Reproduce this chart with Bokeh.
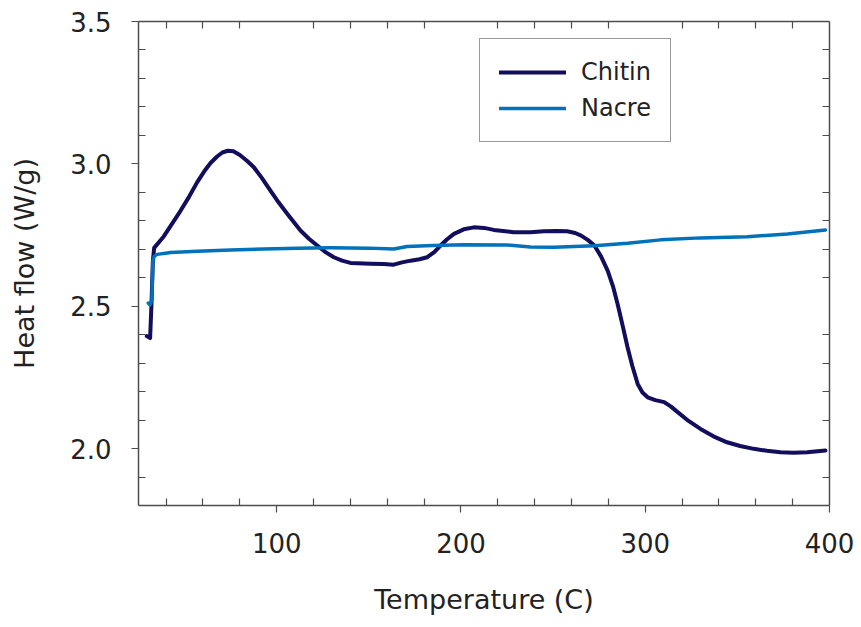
from bokeh.plotting import figure
from bokeh.models import (Range1d, LinearAxis, FixedTicker, PrintfTickFormatter,
                          Legend, LegendItem)
from bokeh.embed import file_html
from bokeh.resources import INLINE

# ---------------- data ----------------
chitin_temp = [29.5, 31.3, 32.0, 32.8, 33.5, 38.7, 47.8, 52.5, 56.8, 60.5, 64.1, 67.5,
               70.5, 73.5, 76.5, 80.0, 84.0, 87.6, 92.0, 96.6, 101.0, 105.7, 112.9,
               117.5, 122.0, 126.5, 131.0, 135.5, 140.0, 150.9, 158.0, 163.5, 168.0,
               172.7, 177.5, 181.7, 185.5, 188.9, 192.5, 196.2, 201.5, 207.0, 212.5,
               217.8, 228.6, 237.7, 245.0, 252.0, 257.6, 262.0, 265.2, 268.8, 272.4,
               276.0, 279.6, 282.5, 285.0, 287.8, 290.4, 293.0, 295.9, 298.5, 301.3,
               305.5, 310.3, 313.8, 317.6, 323.5, 330.0, 337.0, 344.4, 351.5, 358.9,
               366.0, 373.4, 380.5, 387.9, 397.8]
chitin_heat = [2.395, 2.388, 2.500, 2.660, 2.705, 2.745, 2.835, 2.885, 2.935, 2.972,
               3.003, 3.025, 3.040, 3.046, 3.044, 3.031, 3.010, 2.988, 2.950, 2.906,
               2.865, 2.825, 2.766, 2.737, 2.713, 2.690, 2.672, 2.660, 2.652, 2.649,
               2.648, 2.646, 2.654, 2.660, 2.665, 2.672, 2.690, 2.713, 2.735, 2.754,
               2.770, 2.777, 2.775, 2.768, 2.760, 2.760, 2.763, 2.764, 2.763, 2.757,
               2.748, 2.733, 2.713, 2.675, 2.625, 2.570, 2.508, 2.430, 2.356, 2.290,
               2.227, 2.197, 2.180, 2.170, 2.163, 2.148, 2.128, 2.097, 2.069, 2.043,
               2.022, 2.009, 1.999, 1.992, 1.987, 1.985, 1.987, 1.993]

nacre_temp = [30.3, 31.2, 32.2, 32.8, 33.5, 35.1, 42.4, 56.8, 74.9, 93.0, 111.1,
              129.2, 150.0, 163.5, 170.8, 185.0, 201.5, 225.0, 237.7, 250.4, 272.4,
              290.4, 308.3, 330.0, 355.3, 377.1, 397.8]
nacre_heat = [2.511, 2.505, 2.520, 2.660, 2.675, 2.682, 2.689, 2.693, 2.697, 2.701,
              2.704, 2.705, 2.704, 2.701, 2.710, 2.713, 2.716, 2.715, 2.708, 2.707,
              2.712, 2.721, 2.733, 2.740, 2.744, 2.754, 2.768]

series_names = ["Chitin", "Nacre"]
x_major = [100, 200, 300, 400]
x_minor = [40, 60, 80, 120, 140, 160, 180, 220, 240, 260, 280, 320, 340, 360, 380]
y_major = [2.0, 2.5, 3.0, 3.5]
y_minor = [1.9, 2.1, 2.2, 2.3, 2.4, 2.6, 2.7, 2.8, 2.9, 3.1, 3.2, 3.3, 3.4]
x_label = "Temperature (C)"
y_label = "Heat flow (W/g)"

# ---------------- styling ----------------
FONT = "DejaVu Sans"
TXT = "#222222"
AX = "#4d4d4d"
CHITIN_COLOR = "#120d5c"
NACRE_COLOR = "#0072bc"

p = figure(width=861, height=627, output_backend="svg", toolbar_location=None,
           x_range=Range1d(25, 400), y_range=Range1d(1.8, 3.5),
           min_border_left=138, min_border_right=32, min_border_top=21,
           min_border_bottom=122)
p.background_fill_color = "white"
p.border_fill_color = "white"
p.outline_line_color = None
p.xgrid.visible = False
p.ygrid.visible = False

r1 = p.line(chitin_temp, chitin_heat, line_color=CHITIN_COLOR, line_width=4,
            line_join="round", line_cap="round")
r2 = p.line(nacre_temp, nacre_heat, line_color=NACRE_COLOR, line_width=3.5,
            line_join="round", line_cap="round")

def style_axis(ax):
    ax.axis_line_color = AX
    ax.axis_line_width = 1.5
    ax.major_tick_line_color = AX
    ax.minor_tick_line_color = AX
    ax.major_tick_line_width = 1.2
    ax.minor_tick_line_width = 1.2
    ax.major_label_text_font = FONT
    ax.major_label_text_color = TXT
    ax.axis_label_text_font = FONT
    ax.axis_label_text_color = TXT
    ax.axis_label_text_font_style = "normal"

xa = p.xaxis[0]
style_axis(xa)
xa.ticker = FixedTicker(ticks=x_major, minor_ticks=x_minor)
xa.major_tick_in = 0
xa.major_tick_out = 7
xa.minor_tick_in = 7
xa.minor_tick_out = 0
xa.major_label_text_font_size = "26px"
xa.major_label_standoff = 20
xa.axis_label = x_label
xa.axis_label_text_font_size = "27px"
xa.axis_label_standoff = 28

ya = p.yaxis[0]
style_axis(ya)
ya.ticker = FixedTicker(ticks=y_major, minor_ticks=y_minor)
ya.formatter = PrintfTickFormatter(format="%.1f")
ya.major_tick_in = 0
ya.major_tick_out = 7
ya.minor_tick_in = 7
ya.minor_tick_out = 0
ya.major_label_text_font_size = "26px"
ya.major_label_standoff = 20
ya.axis_label = y_label
ya.axis_label_text_font_size = "27px"
ya.axis_label_standoff = 27

top = LinearAxis(ticker=FixedTicker(ticks=[], minor_ticks=x_minor))
style_axis(top)
top.major_tick_in = 0
top.major_tick_out = 0
top.minor_tick_in = 7
top.minor_tick_out = 0
top.major_label_text_font_size = "0px"
p.add_layout(top, "above")

right = LinearAxis(ticker=FixedTicker(ticks=[], minor_ticks=y_minor))
style_axis(right)
right.major_tick_in = 0
right.major_tick_out = 0
right.minor_tick_in = 7
right.minor_tick_out = 0
right.major_label_text_font_size = "0px"
p.add_layout(right, "right")

legend = Legend(items=[LegendItem(label=series_names[0], renderers=[r1]),
                       LegendItem(label=series_names[1], renderers=[r2])],
                location=(341, 363), margin=0, padding=19, spacing=8,
                glyph_width=67, glyph_height=24, label_height=24,
                label_standoff=15,
                label_text_font=FONT, label_text_font_size="24px",
                label_text_color=TXT,
                border_line_color="#333333", border_line_width=1.2,
                background_fill_color="white", background_fill_alpha=1.0)
p.add_layout(legend, "center")

open("out.html", "w").write(file_html(p, INLINE))
